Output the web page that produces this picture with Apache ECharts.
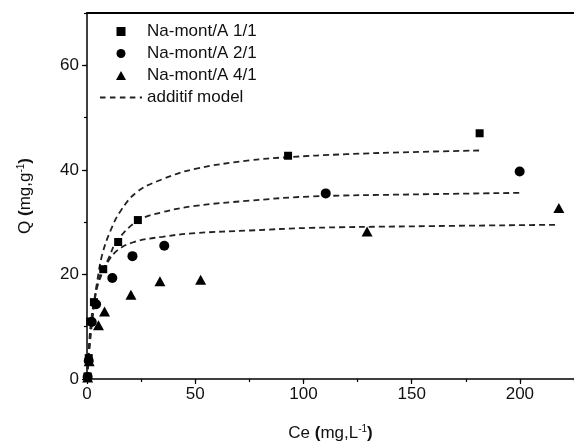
<!DOCTYPE html>
<html><head><meta charset="utf-8">
<script src="https://cdn.jsdelivr.net/npm/echarts@6/dist/echarts.min.js"></script>
<style>html,body{margin:0;padding:0;background:#fff}#c{width:574px;height:448px}</style>
</head><body><div id="c"></div>
<script>
// ---- data ----
const xTickLabels = [0, 50, 100, 150, 200];
const yTickLabels = [0, 20, 40, 60];

const sqX = [0.3, 0.8, 1.5, 3.2, 7.5, 14.4, 23.5, 92.9, 181.4];
const sqY = [0.5, 4.0, 11.0, 14.7, 21.0, 26.2, 30.4, 42.7, 47.0];
const ciX = [0.3, 0.8, 2.2, 4.2, 11.7, 21.0, 35.7, 110.3, 199.9];
const ciY = [0.4, 3.5, 10.9, 14.3, 19.3, 23.5, 25.5, 35.5, 39.7];
const trX = [0.3, 1.0, 5.3, 8.1, 20.3, 33.7, 52.5, 129.4, 218.0];
const trY = [0.3, 3.4, 10.3, 12.9, 16.1, 18.7, 19.0, 28.2, 32.7];

const m1X = [0, 1, 2, 3.2, 4.8, 7.1, 10.9, 15.6, 23.2, 34.8, 50, 75, 92, 120, 150, 181.4];
const m1Y = [0, 5.0, 9.5, 13.8, 18.9, 23.9, 28.4, 32.2, 35.8, 38.2, 40.2, 41.8, 42.4, 43.0, 43.4, 43.7];
const m2X = [0, 1, 2, 3.5, 5, 7.1, 10.2, 14, 23.7, 34.8, 50, 75, 103, 150, 200.2];
const m2Y = [0, 6.0, 10.5, 15.0, 18.0, 20.3, 23.3, 26.5, 30.3, 31.9, 33.1, 34.1, 34.9, 35.3, 35.6];
const m3X = [0, 1, 2, 3.5, 5, 7.1, 9.4, 14, 21.7, 34.8, 50, 75, 103, 150, 218];
const m3Y = [0, 7.0, 11.5, 15.5, 18.5, 20.8, 22.3, 24.6, 26.2, 27.2, 27.9, 28.4, 28.9, 29.2, 29.5];

const seriesNames = ['Na-mont/A 1/1', 'Na-mont/A 2/1', 'Na-mont/A 4/1', 'additif model'];

function pairs(xs, ys) { return xs.map((x, i) => [x, ys[i]]); }

const FONT = 'Liberation Sans';
const chart = echarts.init(document.getElementById('c'), null, {renderer: 'canvas'});

const dashed = {color: '#222', width: 1.8, type: [6, 4]};

chart.setOption({
  animation: false,
  backgroundColor: '#fff',
  textStyle: {fontFamily: FONT, color: '#111'},
  grid: [
    {left: 87, right: 0, top: 13, bottom: 69, outerBoundsMode: 'none'},
    {left: 87, right: 0, top: 13, bottom: 69, outerBoundsMode: 'none'}
  ],
  legend: {
    orient: 'vertical', left: 100, top: 23, padding: 0,
    itemWidth: 42, itemHeight: 9, itemGap: 5,
    symbolKeepAspect: true,
    textStyle: {fontFamily: FONT, fontSize: 17, color: '#111'},
    data: [
      {name: seriesNames[0], icon: 'path://M0,0h10v10h-10z'},
      {name: seriesNames[1], icon: 'circle'},
      {name: seriesNames[2], icon: 'path://M5,0L10,9L0,9z'},
      {name: seriesNames[3], icon: 'path://M0,0h5v1.6h-5z M9,0h5v1.6h-5z M18,0h5v1.6h-5z M27,0h5v1.6h-5z M36,0h2v1.6h-2z'}
    ]
  },
  xAxis: [
    {
      type: 'value', gridIndex: 0, position: 'bottom', min: 0, max: 225, interval: 50,
      splitLine: {show: false},
      axisLine: {lineStyle: {color: '#000', width: 1.5}},
      axisTick: {length: 5, lineStyle: {color: '#000', width: 1.2}},
      axisLabel: {fontFamily: FONT, fontSize: 17, color: '#111', margin: 7, showMaxLabel: false,
        formatter: v => xTickLabels.includes(v) ? String(v) : ''},
      name: '{a|Ce }{b|(}{a|mg,L}{s|-1}{b|)}', nameLocation: 'middle', nameGap: 45,
      nameTextStyle: {rich: {
        a: {fontFamily: FONT, fontSize: 17, color: '#111'},
        b: {fontFamily: FONT, fontSize: 17, color: '#111', fontWeight: 'bold'},
        s: {fontFamily: FONT, fontSize: 10, color: '#111', padding: [0, 0, 9, 0]}
      }}
    },
    {
      type: 'value', gridIndex: 0, position: 'top', min: 0, max: 225,
      splitLine: {show: false}, axisTick: {show: false}, axisLabel: {show: false},
      axisLine: {lineStyle: {color: '#000', width: 2}}
    },
    {
      type: 'value', gridIndex: 1, position: 'bottom', min: 0, max: 225, interval: 25,
      splitLine: {show: false}, axisLabel: {show: false}, axisLine: {show: false},
      axisTick: {length: 3, lineStyle: {color: '#000', width: 1.2}}
    }
  ],
  yAxis: [
    {
      type: 'value', gridIndex: 0, position: 'left', min: 0, max: 70, interval: 20,
      splitLine: {show: false},
      axisLine: {show: true, lineStyle: {color: '#000', width: 1.5}},
      axisTick: {show: true, length: 5, lineStyle: {color: '#000', width: 1.2}},
      axisLabel: {fontFamily: FONT, fontSize: 17, color: '#111', margin: 8, showMaxLabel: false,
        formatter: v => yTickLabels.includes(v) ? String(v) : ''},
      name: '{a|Q }{b|(}{a|mg,g}{s|-1}{b|)}', nameLocation: 'middle', nameGap: 52, nameRotate: 90,
      nameTextStyle: {rich: {
        a: {fontFamily: FONT, fontSize: 17, color: '#111'},
        b: {fontFamily: FONT, fontSize: 17, color: '#111', fontWeight: 'bold'},
        s: {fontFamily: FONT, fontSize: 10, color: '#111', padding: [0, 0, 9, 0]}
      }}
    },
    {
      type: 'value', gridIndex: 1, position: 'left', min: 0, max: 70, interval: 10,
      splitLine: {show: false}, axisLabel: {show: false}, axisLine: {show: false},
      axisTick: {show: true, length: 3, lineStyle: {color: '#000', width: 1.2}}
    }
  ],
  series: [
    {name: seriesNames[3], type: 'line', xAxisIndex: 0, yAxisIndex: 0, data: pairs(m1X, m1Y),
     smooth: 0.4, symbol: 'none', lineStyle: dashed, itemStyle: {color: '#222'}, z: 2},
    {name: 'model 2/1', type: 'line', xAxisIndex: 0, yAxisIndex: 0, data: pairs(m2X, m2Y),
     smooth: 0.4, symbol: 'none', lineStyle: dashed, itemStyle: {color: '#222'}, z: 2},
    {name: 'model 4/1', type: 'line', xAxisIndex: 0, yAxisIndex: 0, data: pairs(m3X, m3Y),
     smooth: 0.4, symbol: 'none', lineStyle: dashed, itemStyle: {color: '#222'}, z: 2},
    {name: seriesNames[0], type: 'scatter', xAxisIndex: 0, yAxisIndex: 0, data: pairs(sqX, sqY),
     symbol: 'rect', symbolSize: 8, itemStyle: {color: '#000', opacity: 1}, z: 3},
    {name: seriesNames[1], type: 'scatter', xAxisIndex: 0, yAxisIndex: 0, data: pairs(ciX, ciY),
     symbol: 'circle', symbolSize: 10, itemStyle: {color: '#000', opacity: 1}, z: 3},
    {name: seriesNames[2], type: 'scatter', xAxisIndex: 0, yAxisIndex: 0, data: pairs(trX, trY),
     symbol: 'triangle', symbolSize: [11, 10], itemStyle: {color: '#000', opacity: 1}, z: 3}
  ]
});
</script></body></html>
